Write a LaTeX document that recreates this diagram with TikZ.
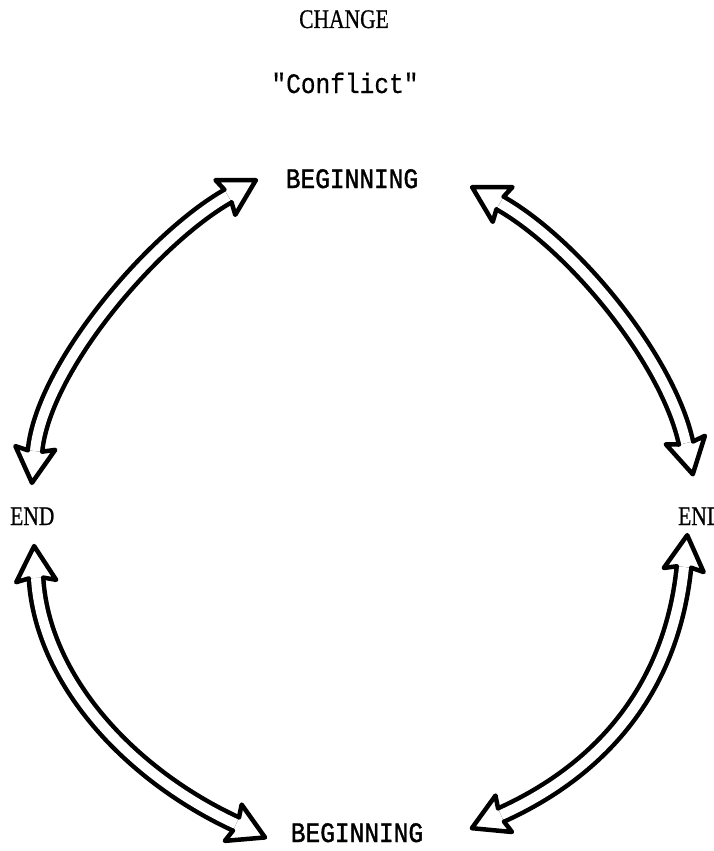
\documentclass[tikz,border=0pt]{standalone}
\usepackage{fontspec}
\usepackage{graphicx}
\setmainfont[FakeBold=0.8]{Liberation Serif}
\newfontfamily\typewriter[FakeBold=1.4]{Liberation Mono}
\newfontfamily\lighttype[FakeBold=0.5]{Liberation Mono}
\usetikzlibrary{decorations.markings}

% taller lettering, as typed
\newcommand\tallbox[1]{\scalebox{1}[1.15]{#1}}
\newcommand\tallerbox[1]{\scalebox{1}[1.25]{#1}}

\tikzset{
  shaft/.style={draw=black, line width=4.5pt, double=white, double distance=10pt},
  headline/.style={draw=black, line width=4.5pt, line join=round, line cap=round},
  serifcap/.style={font=\fontsize{21.5}{24}\selectfont, inner sep=0pt},
  typed/.style={font=\typewriter\fontsize{24.5}{28}\selectfont, inner sep=0pt},
  lighttyped/.style={font=\lighttype\fontsize{24.5}{28}\selectfont, inner sep=0pt},
  % open arrow heads at both ends of a hollow shaft
  twoheads/.style={decoration={markings,
      mark=at position 0 with {\draw[headline] (0,7.25) -- (3,20) -- (-32,0) -- (3,-20) -- (0,-7.25);},
      mark=at position 0.9999 with {\draw[headline] (0,7.25) -- (-3,20) -- (32,0) -- (-3,-20) -- (0,-7.25);}},
    decorate}
}

\begin{document}
\begin{tikzpicture}[x=1pt,y=-1pt]
\useasboundingbox (0,0) rectangle (714,851);
\fill[white] (0,0) rectangle (714,851);

% labels
\node[serifcap, anchor=base] (change) at (344,28) {\tallerbox{CHANGE}};
\node[lighttyped, anchor=base] (conflict) at (345,93) {\tallbox{"Conflict"}};
\node[typed, anchor=base] (begtop) at (352,188) {\tallbox{BEGINNING}};
\node[typed, anchor=base] (begbot) at (357,842) {\tallbox{BEGINNING}};
\node[serifcap, anchor=base west] (endleft) at (10,525) {\tallerbox{END}};
\node[serifcap, anchor=base west] (endright) at (678,525) {\tallerbox{END}};

% ends of the four curved shafts
\coordinate (tlA) at (228,196);
\coordinate (tlB) at (35,451);
\coordinate (trA) at (500,203);
\coordinate (trB) at (686,443);
\coordinate (blA) at (36,578);
\coordinate (blB) at (236,824);
\coordinate (brA) at (684,567);
\coordinate (brB) at (501,815);

% BEGINNING <-> END (left)
\draw[shaft] (tlA) .. controls (154,238) and (43,367) .. (tlB);
\path[twoheads] (tlA) .. controls (154,238) and (43,367) .. (tlB);

% BEGINNING <-> END (right)
\draw[shaft] (trA) .. controls (574,245) and (668,360) .. (trB);
\path[twoheads] (trA) .. controls (574,245) and (668,360) .. (trB);

% END (left) <-> BEGINNING
\draw[shaft] (blA) .. controls (42,680) and (130,775) .. (blB);
\path[twoheads] (blA) .. controls (42,680) and (130,775) .. (blB);

% END (right) <-> BEGINNING
\draw[shaft] (brA) .. controls (672,685) and (605,768) .. (brB);
\path[twoheads] (brA) .. controls (672,685) and (605,768) .. (brB);
\end{tikzpicture}
\end{document}
